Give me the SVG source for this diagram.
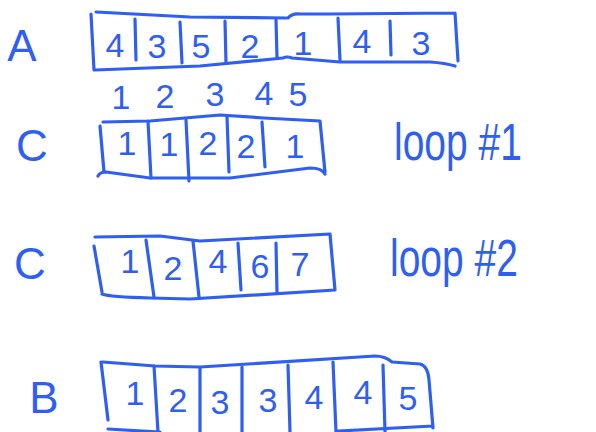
<svg xmlns="http://www.w3.org/2000/svg" width="596" height="432" viewBox="0 0 596 432">
<style>
.ln{fill:none;stroke:#2f5ff2;stroke-width:3.2;stroke-linecap:round;stroke-linejoin:round}
.d{font-family:"Liberation Sans",Arial,sans-serif;font-size:34px;fill:#2f5ff2;text-anchor:middle;dominant-baseline:central}
.lab{font-family:"Liberation Sans",Arial,sans-serif;font-size:44px;fill:#2f5ff2;text-anchor:middle;dominant-baseline:central}
.loop{font-family:"Liberation Sans",Arial,sans-serif;font-size:39px;fill:#2f5ff2}
</style>
<rect width="596" height="432" fill="#ffffff"/>

<g id="array-A">
  <text class="lab" x="22" y="45" font-size="38">A</text>
  <path class="ln" d="M91,14 L94,70 M96,12 L190,17 L288,18 Q292,13 300,14 L330,14 L455,13 M455,13 L458,61 M95,70 L200,66 L283,58 Q287,56 292,58 L340,62 L430,62 Q445,63 455,66"/>
  <path class="ln" d="M135,19 L136,60 M180,22 L182,63 M225,21 L226,63 M276,20 L277,57 M338,18 L340,60 M390,21 L391,55"/>
  <text class="d" x="115" y="45">4</text>
  <text class="d" x="157" y="46">3</text>
  <text class="d" x="201" y="46">5</text>
  <text class="d" x="250" y="46">2</text>
  <text class="d" x="303" y="43">1</text>
  <text class="d" x="362" y="41">4</text>
  <text class="d" x="421" y="43">3</text>
</g>

<g id="index-labels">
  <text class="d" x="121" y="97">1</text>
  <text class="d" x="165" y="96">2</text>
  <text class="d" x="215" y="94">3</text>
  <text class="d" x="264" y="93">4</text>
  <text class="d" x="298" y="94">5</text>
</g>

<g id="array-C1">
  <text class="lab" x="32" y="145">C</text>
  <path class="ln" d="M100,126 L104,172 M103,122 L150,121 L220,115 L264,118 L320,121 L325,172 M98,176 Q100,172 106,172 L150,178 L230,178 L310,168 Q322,168 325,174"/>
  <path class="ln" d="M148,121 L151,178 M186,120 L189,181 M227,117 L229,172 M262,122 L265,167"/>
  <text class="d" x="127" y="143">1</text>
  <text class="d" x="169" y="144">1</text>
  <text class="d" x="208" y="143">2</text>
  <text class="d" x="246" y="146">2</text>
  <text class="d" x="295" y="146">1</text>
  <text class="loop" transform="translate(394,160) scale(1,1.35)">loop #1</text>
</g>

<g id="array-C2">
  <text class="lab" x="30" y="263">C</text>
  <path class="ln" d="M94,246 L102,292 M95,237 L160,236 L200,241 L330,234 L335,290 M102,294 Q110,297 150,298 L190,299 L335,290"/>
  <path class="ln" d="M146,240 L154,297 M193,241 L199,297 M238,243 L241,290 M276,243 L277,292"/>
  <text class="d" x="130" y="261">1</text>
  <text class="d" x="173" y="268">2</text>
  <text class="d" x="218" y="261">4</text>
  <text class="d" x="260" y="266">6</text>
  <text class="d" x="300" y="264">7</text>
  <text class="loop" transform="translate(390,276) scale(1,1.35)">loop #2</text>
</g>

<g id="array-B">
  <text class="lab" x="44" y="397">B</text>
  <path class="ln" d="M101,362 L108,420 M103,362 L155,366 L200,367 L375,356 Q385,356 392,362 L420,364 Q428,366 429,380 L433,428 M108,429 L160,432 M338,431 L433,426"/>
  <path class="ln" d="M154,366 L158,432 M200,368 L200,432 M242,367 L242,432 M288,365 L290,432 M333,362 L336,432 M383,365 L385,432"/>
  <text class="d" x="135" y="393">1</text>
  <text class="d" x="178" y="400">2</text>
  <text class="d" x="220" y="402">3</text>
  <text class="d" x="268" y="400">3</text>
  <text class="d" x="314" y="397">4</text>
  <text class="d" x="363" y="392">4</text>
  <text class="d" x="408" y="398">5</text>
</g>
</svg>
